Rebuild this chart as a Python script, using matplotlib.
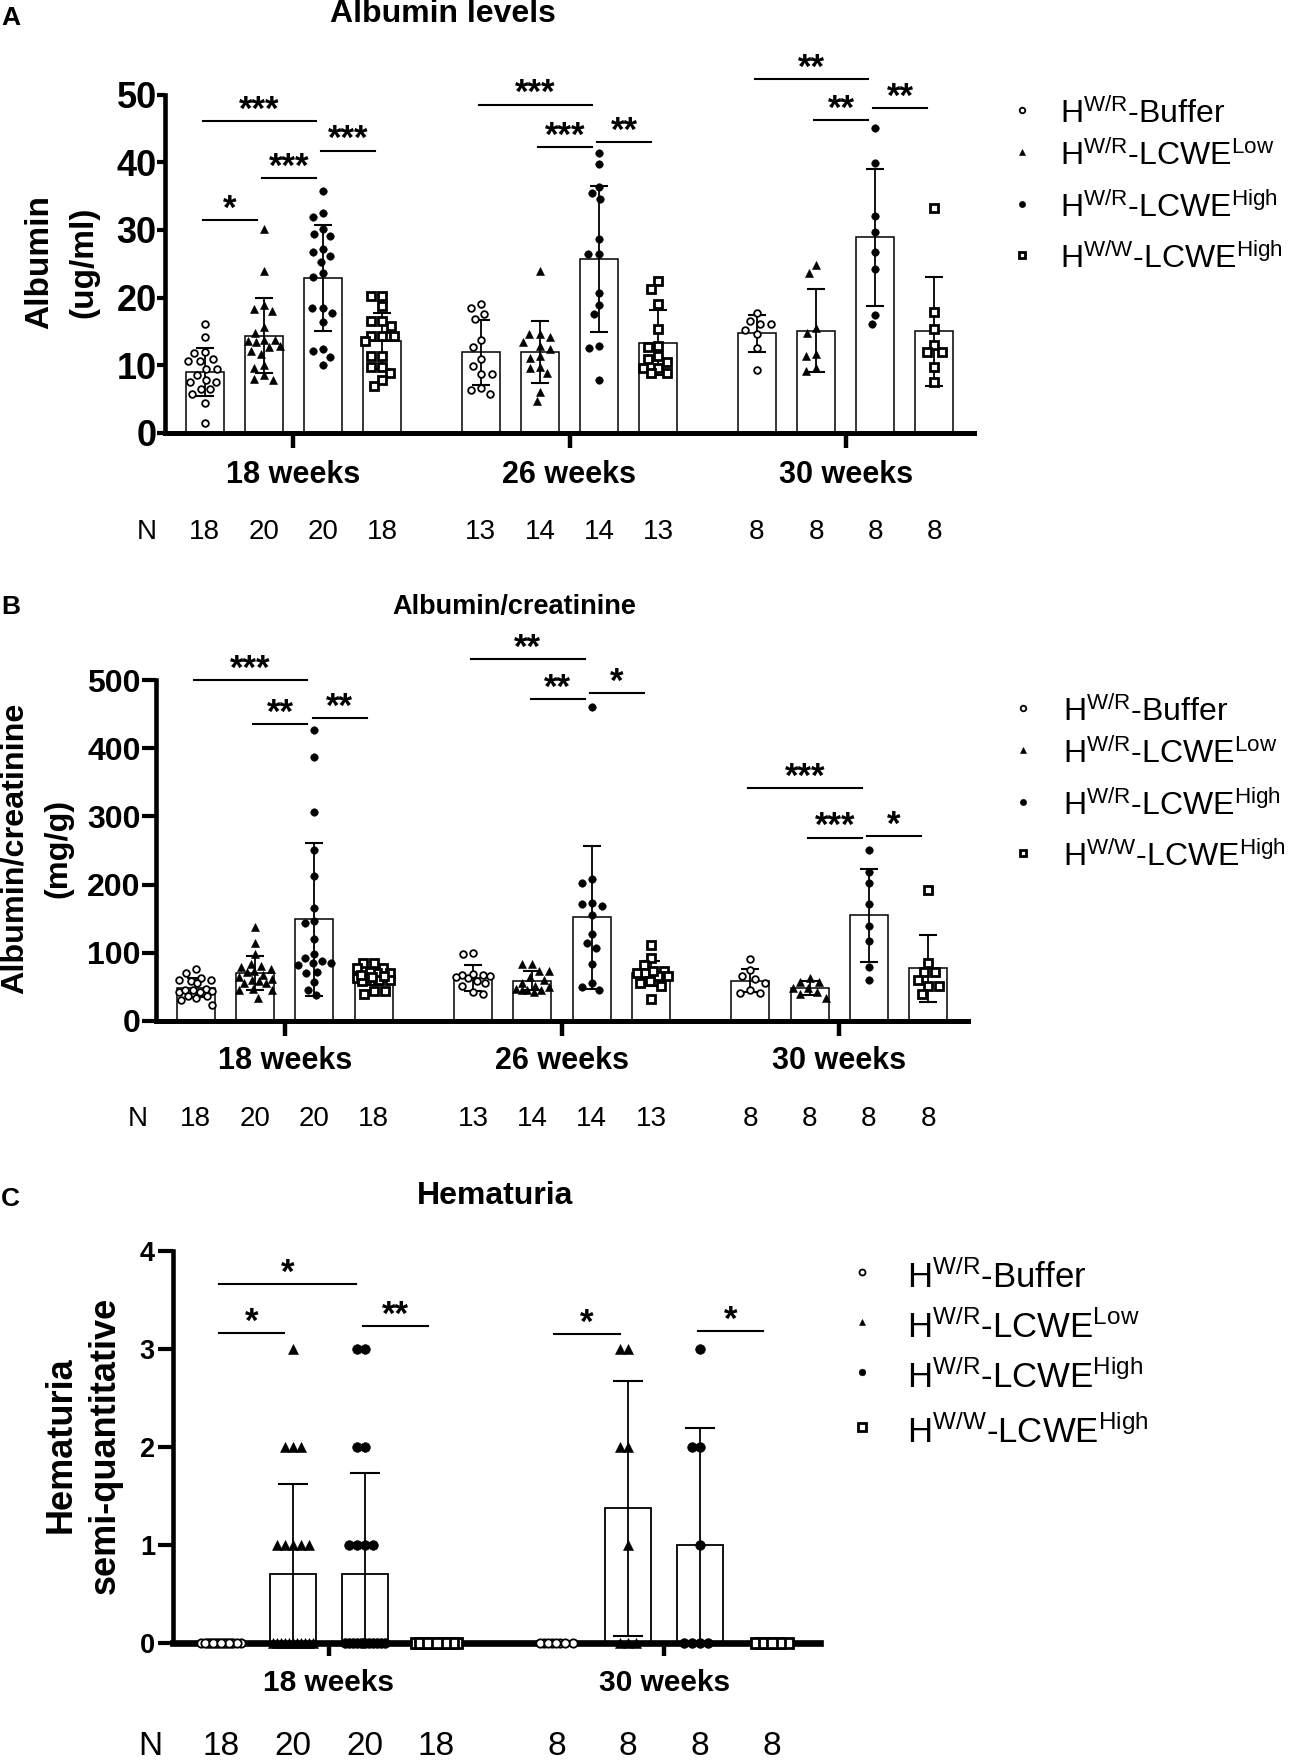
"""Albumin, albumin/creatinine and hematuria bar charts (panels A-C)."""

import matplotlib

matplotlib.use("Agg")
import matplotlib.pyplot as plt
import numpy as np
from matplotlib.lines import Line2D
from matplotlib.transforms import blended_transform_factory

plt.rcParams["font.family"] = ["Liberation Sans", "DejaVu Sans"]
plt.rcParams["mathtext.fontset"] = "custom"
plt.rcParams["mathtext.rm"] = "Liberation Sans"
plt.rcParams["mathtext.it"] = "Liberation Sans:italic"
plt.rcParams["mathtext.bf"] = "Liberation Sans:bold"

FIG_W, FIG_H, DPI = 1300, 1763, 100
GROUP_STEP = 4.67
BAR_WIDTH = 0.64
EDGE = 0.67

# ---- values ----
WEEKS = ["18 weeks", "26 weeks", "30 weeks"]
WEEKS_HEMATURIA = ["18 weeks", "30 weeks"]
LEGEND_LABELS = [
    r"H$^\mathregular{W/R}$-Buffer",
    r"H$^\mathregular{W/R}$-LCWE$^\mathregular{Low}$",
    r"H$^\mathregular{W/R}$-LCWE$^\mathregular{High}$",
    r"H$^\mathregular{W/W}$-LCWE$^\mathregular{High}$",
]
N_ALBUMIN = [[18, 20, 20, 18], [13, 14, 14, 13], [8, 8, 8, 8]]
N_HEMATURIA = [[18, 20, 20, 18], [8, 8, 8, 8]]

# panel A: albumin (ug/ml), one list per group in legend order
albumin_18wk = [
    [16.1, 14.2, 11.9, 11.8, 11.0, 10.6, 10.6, 9.4, 9.4, 8.6, 7.6, 7.6, 7.8, 6.5, 6.5, 5.7, 4.5, 1.5],
    [30.2, 23.9, 18.3, 18.0, 18.9, 14.8, 15.6, 13.4, 13.8, 13.6, 13.8, 12.1, 12.7, 12.8, 11.7,
     9.6, 10.1, 8.6, 7.8, 8.0],
    [35.8, 31.9, 32.5, 30.2, 29.4, 29.1, 27.2, 26.1, 26.8, 25.3, 23.7, 23.1, 18.4, 18.4, 17.7,
     16.4, 12.4, 12.1, 11.2, 10.0],
    [20.3, 20.3, 18.8, 16.6, 16.6, 15.8, 14.4, 14.4, 14.4, 14.4, 13.6, 11.3, 11.3, 9.8, 9.8, 8.9, 7.9, 7.0],
]
albumin_26wk = [
    [19.0, 18.5, 16.9, 17.6, 13.8, 12.7, 10.9, 9.9, 8.7, 8.7, 6.6, 5.8, 6.3],
    [23.9, 14.2, 14.6, 14.6, 12.9, 13.4, 12.4, 11.1, 11.3, 9.6, 9.8, 8.8, 6.1, 4.7],
    [41.3, 39.7, 36.4, 34.5, 35.4, 28.7, 26.4, 26.4, 20.7, 18.9, 17.6, 12.9, 12.6, 7.9],
    [22.4, 21.3, 19.0, 15.4, 12.7, 12.9, 11.3, 10.5, 10.9, 9.6, 9.6, 8.8, 8.8],
]
albumin_30wk = [
    [17.7, 16.1, 16.5, 16.1, 14.6, 15.2, 12.5, 9.3],
    [24.8, 23.7, 14.8, 15.5, 11.3, 11.7, 9.1, 9.6],
    [45.0, 39.9, 32.1, 29.7, 26.8, 24.2, 17.5, 16.1],
    [33.2, 17.8, 15.3, 13.0, 11.9, 11.9, 9.8, 7.5],
]
albumin_mean = [[9.0, 14.4, 22.9, 13.6], [11.9, 12.0, 25.7, 13.3], [14.7, 15.1, 28.9, 15.0]]
albumin_sd = [[3.5, 5.5, 7.8, 4.1], [4.8, 4.6, 10.8, 4.8], [2.7, 6.1, 10.1, 8.0]]
# (group, first bar, second bar, line height, stars)
albumin_sig = [
    (0, 0, 2, 46.1, "***"), (0, 0, 1, 31.4, "*"), (0, 1, 2, 37.7, "***"), (0, 2, 3, 41.7, "***"),
    (1, 0, 2, 48.5, "***"), (1, 1, 2, 42.2, "***"), (1, 2, 3, 43.0, "**"),
    (2, 0, 2, 52.3, "**"), (2, 1, 2, 46.2, "**"), (2, 2, 3, 48.0, "**"),
]

# panel B: albumin/creatinine (mg/g)
ratio_18wk = [
    [76.7, 70.9, 59.6, 59.6, 63.5, 58.6, 55.2, 45, 42, 47, 44, 46, 43, 36.6, 36.6, 30.3, 33.0, 23.4],
    [138, 115, 97.8, 79, 81, 76, 84, 67, 72, 73, 56, 55, 60, 58, 46, 47, 46, 34, 64, 62],
    [426, 387, 307, 251, 212.6, 165.7, 147, 143, 119.7, 98.7, 88, 93, 81.6, 85.5, 85.5, 72, 71,
     57, 46, 37.6],
    [85.5, 85.5, 78, 78, 70, 72, 70, 62.6, 62.6, 60, 58, 60, 66, 44, 44, 39, 68, 64],
]
ratio_26wk = [
    [97.8, 99, 63, 66, 68, 65, 67, 69, 55, 58, 51, 40, 42],
    [84, 83, 73, 73, 65, 46, 46, 47, 60, 46, 42, 52, 50, 55],
    [461, 208.7, 202.8, 168, 171, 172.5, 155, 127, 107.5, 114, 84, 55, 45, 50],
    [111, 92, 74, 81.6, 66, 70, 70, 66, 58, 56, 52, 31.8, 74],
]
ratio_30wk = [
    [90.4, 66, 74.3, 56, 61, 41.5, 45, 41.5],
    [63.5, 57.7, 57.7, 49, 49, 42, 40, 34],
    [250.7, 218.9, 202.8, 171, 139, 117, 79, 59.6],
    [192, 85.5, 72, 72, 51, 51, 60, 39],
]
ratio_mean = [[49, 70, 149, 65], [63, 59, 152, 70], [59, 48, 155, 77]]
ratio_sd = [[14, 25, 112, 12], [19, 14, 105, 18], [17, 10, 68, 49]]
ratio_sig = [
    (0, 0, 2, 500, "***"), (0, 1, 2, 435, "**"), (0, 2, 3, 444, "**"),
    (1, 0, 2, 531, "**"), (1, 1, 2, 472, "**"), (1, 2, 3, 481, "*"),
    (2, 0, 2, 341, "***"), (2, 1, 2, 269, "***"), (2, 2, 3, 271, "*"),
]

# panel C: hematuria score (0-3)
hematuria_18wk = [
    [0] * 18,
    [3, 2, 2, 2, 1, 1, 1, 1, 1] + [0] * 11,
    [3, 3, 2, 2, 1, 1, 1, 1] + [0] * 12,
    [0] * 18,
]
hematuria_30wk = [
    [0] * 8,
    [3, 3, 2, 2, 1, 0, 0, 0],
    [3, 2, 2, 1, 0, 0, 0, 0],
    [0] * 8,
]
hematuria_mean = [[0, 0.7, 0.7, 0], [0, 1.375, 1.0, 0]]
hematuria_sd = [[0, 0.92, 1.03, 0], [0, 1.30, 1.19, 0]]
hematuria_sig = [
    (0, 0, 2, 3.66, "*"), (0, 0, 1, 3.16, "*"), (0, 2, 3, 3.23, "**"),
    (1, 0, 1, 3.15, "*"), (1, 2, 3, 3.18, "*"),
]

MARKER_STYLES = [
    dict(marker="o", mfc="white", mec="black", mew=1.3),
    dict(marker="^", mfc="black", mec="black", mew=0.4),
    dict(marker="o", mfc="black", mec="black", mew=0.4),
    dict(marker="s", mfc="white", mec="black", mew=2.0),
]


def fig_x(px):
    return px / FIG_W


def fig_y(px):
    return 1 - px / FIG_H


def swarm_offsets(values, sx, sy, radius, spread):
    """Spread points sideways so markers do not sit on top of each other."""
    cands = np.linspace(-spread, spread, 41)
    cands = cands[np.argsort(np.abs(cands), kind="stable")]
    placed = []
    offsets = np.zeros(len(values))
    for idx in np.argsort(values, kind="stable")[::-1]:
        v = values[idx]
        best, best_d = 0.0, -1.0
        for c in cands:
            d = min((np.hypot((c - px) * sx, (v - py) * sy) for px, py in placed), default=np.inf)
            if d >= radius:
                best = c
                break
            if d > best_d + 1e-9:
                best, best_d = c, d
        offsets[idx] = best
        placed.append((best, v))
    return offsets


def draw_panel(fig, box, points, means, sds, counts, sig, groups, ymax, yticks, look):
    ax = fig.add_axes([fig_x(box["left"]), fig_y(box["bottom"]),
                       (box["right"] - box["left"]) / FIG_W,
                       (box["bottom"] - box["top"]) / FIG_H])
    n_groups = len(groups)
    centers = np.arange(n_groups)[:, None] * GROUP_STEP + np.arange(4)[None, :] - 1.5
    x_lo, x_hi = centers.min() - EDGE, centers.max() + EDGE
    ax.set_xlim(x_lo, x_hi)
    ax.set_ylim(0, ymax)
    sx = (box["right"] - box["left"]) / (x_hi - x_lo)
    sy = (box["bottom"] - box["top"]) / ymax

    ax.bar(centers.ravel(), np.ravel(means), width=BAR_WIDTH, color="white",
           edgecolor="black", linewidth=look["bar_lw"], zorder=1)
    for x, m, s in zip(centers.ravel(), np.ravel(means), np.ravel(sds)):
        if s > 0:
            ax.errorbar(x, m, yerr=s, fmt="none", ecolor="black", elinewidth=1.3,
                        capsize=look["capsize"], capthick=1.5, zorder=2)
    for g in range(n_groups):
        for k in range(4):
            vals = np.asarray(points[g][k], dtype=float)
            offs = swarm_offsets(vals, sx, sy, look["radius"], look["spread"])
            ax.plot(centers[g, k] + offs, vals, linestyle="none", ms=look["ms"][k],
                    clip_on=False, zorder=4, **MARKER_STYLES[k])

    for g, i, j, y, stars in sig:
        x0, x1 = centers[g, i] - 0.03, centers[g, j] - 0.12
        ax.plot([x0, x1], [y, y], color="black", lw=1.5, clip_on=False, zorder=3)
        ax.annotate(stars, xy=((x0 + x1) / 2, y), xytext=(0, 1), textcoords="offset points",
                    ha="center", va="baseline", fontsize=25, fontweight="bold",
                    annotation_clip=False)

    for side in ("top", "right"):
        ax.spines[side].set_visible(False)
    ax.spines["left"].set_linewidth(3.3)
    ax.spines["bottom"].set_linewidth(look["xaxis_lw"])
    ax.spines["bottom"].set_zorder(3)
    ax.set_facecolor("none")
    ax.set_xticks(centers.mean(axis=1))
    ax.set_xticklabels([])
    ax.tick_params(axis="x", length=look["xtick_len"], width=3.2, direction="out")
    ax.set_yticks(yticks)
    ax.tick_params(axis="y", length=look["ytick_len"], width=3.0, pad=look["ytick_pad"],
                   labelsize=look["ytick_size"])
    for lbl in ax.get_yticklabels():
        lbl.set_fontweight("bold")

    trans = blended_transform_factory(ax.transData, fig.transFigure)
    for g, name in enumerate(groups):
        ax.text(centers[g].mean(), fig_y(look["group_base"]), name, transform=trans,
                ha="center", va="baseline", fontsize=look["group_size"], fontweight="bold")
    ax.text(centers[0, 0] - 0.98, fig_y(look["n_base"]), "N", transform=trans,
            ha="center", va="baseline", fontsize=look["n_size"])
    for g in range(n_groups):
        for k in range(4):
            ax.text(centers[g, k], fig_y(look["n_base"]), str(counts[g][k]), transform=trans,
                    ha="center", va="baseline", fontsize=look["n_size"])
    return ax


def draw_legend(fig, x_marker, x_text, baselines, fontsize, sizes, lift):
    for label, base, style, ms in zip(LEGEND_LABELS, baselines, MARKER_STYLES, sizes):
        fig.text(fig_x(x_text), fig_y(base), label, ha="left", va="baseline", fontsize=fontsize)
        fig.add_artist(Line2D([fig_x(x_marker)], [fig_y(base - lift)], linestyle="none",
                              ms=ms, transform=fig.transFigure, **style))


fig = plt.figure(figsize=(FIG_W / DPI, FIG_H / DPI), dpi=DPI)

look_ab = dict(bar_lw=1.1, capsize=6.8, radius=10, spread=0.28, ms=[4.8, 5.8, 5.4, 6.0],
               xaxis_lw=3.6, xtick_len=10.5, ytick_len=6, ytick_pad=0, ytick_size=26,
               group_size=22, n_size=20)

look_a = dict(look_ab, group_base=483, n_base=539)
draw_panel(fig, dict(left=165, right=974, top=94.5, bottom=433),
           [albumin_18wk, albumin_26wk, albumin_30wk], albumin_mean, albumin_sd,
           N_ALBUMIN, albumin_sig, WEEKS, 50, np.arange(0, 51, 10), look_a)

look_b = dict(look_ab, group_base=1069, n_base=1126, ytick_len=10, ytick_pad=1, ytick_size=23)
draw_panel(fig, dict(left=156, right=968, top=680, bottom=1021),
           [ratio_18wk, ratio_26wk, ratio_30wk], ratio_mean, ratio_sd,
           N_ALBUMIN, ratio_sig, WEEKS, 500, np.arange(0, 501, 100), look_b)

look_c = dict(bar_lw=1.3, capsize=10.5, radius=8, spread=0.28, ms=[6, 7, 7, 7],
              xaxis_lw=4.8, xtick_len=9.5, ytick_len=11, ytick_pad=2, ytick_size=19.5,
              group_size=21.5, n_size=24, group_base=1691, n_base=1755)
draw_panel(fig, dict(left=173, right=820, top=1251, bottom=1643),
           [hematuria_18wk, hematuria_30wk], hematuria_mean, hematuria_sd,
           N_HEMATURIA, hematuria_sig, WEEKS_HEMATURIA, 4, np.arange(0, 5, 1), look_c)

# panel letters and titles
for letter, base in (("A", 25), ("B", 614), ("C", 1206)):
    fig.text(fig_x(1), fig_y(base), letter, ha="left", va="baseline", fontsize=19, fontweight="bold")
fig.text(fig_x(443), fig_y(22), "Albumin levels", ha="center", va="baseline",
         fontsize=23, fontweight="bold")
fig.text(fig_x(514), fig_y(614), "Albumin/creatinine", ha="center", va="baseline",
         fontsize=19.5, fontweight="bold")
fig.text(fig_x(495), fig_y(1204), "Hematuria", ha="center", va="baseline",
         fontsize=23, fontweight="bold")

# y axis titles (two lines each)
for text, x_px, y_px, size in (
    ("Albumin", 40, 262, 24), ("(ug/ml)", 84, 262, 24),
    ("Albumin/creatinine", 15, 848, 23.3), ("(mg/g)", 58, 848, 23.3),
    ("Hematuria", 61, 1445, 26), ("semi-quantitative", 105, 1445, 26),
):
    fig.text(fig_x(x_px), fig_y(y_px), text, rotation=90, ha="center", va="center",
             fontsize=size, fontweight="bold")

draw_legend(fig, 1022, 1060, [123, 165, 217, 268], 23, [4, 4.5, 4.5, 5], 13)
draw_legend(fig, 1023, 1063, [721, 763, 815, 866], 23, [4, 4.5, 4.5, 5], 13)
draw_legend(fig, 862, 907, [1288, 1338, 1388, 1443], 25, [4.3, 4.8, 4.8, 5.3], 16)

fig.savefig("out.png", dpi=DPI)
plt.close(fig)
